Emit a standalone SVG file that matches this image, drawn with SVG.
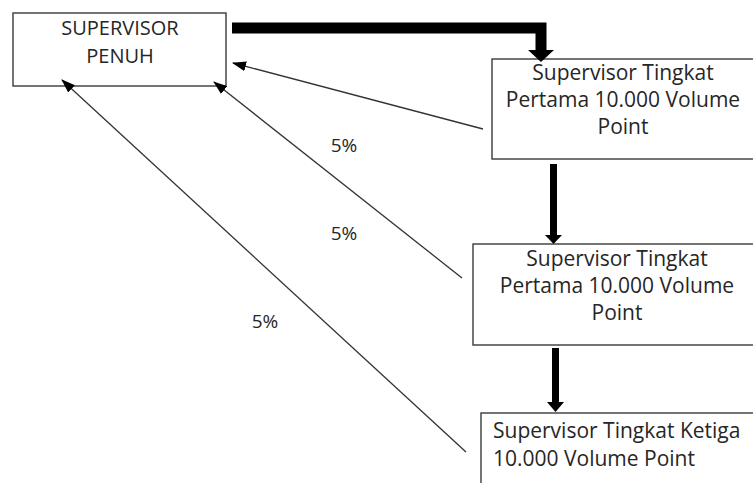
<svg xmlns="http://www.w3.org/2000/svg" width="753" height="483" viewBox="0 0 753 483">
<style>
.box{fill:#fff;stroke:#3a3a3a;stroke-width:1.4}
.t{font-family:"Open Sans","DejaVu Sans",sans-serif;font-size:21px;fill:#262626}
.c{text-anchor:middle}
.thin{stroke:#333;stroke-width:1.3;fill:none}
.lbl{font-family:"Open Sans","DejaVu Sans",sans-serif;font-size:19px;fill:#262626;text-anchor:middle}
</style>
<defs>
<marker id="ah" markerUnits="userSpaceOnUse" markerWidth="14" markerHeight="10" refX="13" refY="5" orient="auto">
<path d="M0,0 L14,5 L0,10 z" fill="#000"/>
</marker>
</defs>
<g id="node-supervisor-penuh">
<rect class="box" x="13" y="13" width="213" height="73"/>
<text class="t c" x="120" y="35" style="font-size:20px">SUPERVISOR</text>
<text class="t c" x="120" y="63" style="font-size:20px">PENUH</text>
</g>
<g id="node-tingkat-pertama-1">
<rect class="box" x="492" y="59" width="270" height="100"/>
<text class="t c" x="623" y="80">Supervisor Tingkat</text>
<text class="t c" x="623" y="107">Pertama 10.000 Volume</text>
<text class="t c" x="623" y="134">Point</text>
</g>
<g id="node-tingkat-pertama-2">
<rect class="box" x="473" y="244" width="290" height="101"/>
<text class="t c" x="617" y="266">Supervisor Tingkat</text>
<text class="t c" x="617" y="293">Pertama 10.000 Volume</text>
<text class="t c" x="617" y="320">Point</text>
</g>
<g id="node-tingkat-ketiga">
<rect class="box" x="481" y="413" width="290" height="90"/>
<text class="t" x="493" y="438">Supervisor Tingkat Ketiga</text>
<text class="t" x="493" y="466">10.000 Volume Point</text>
</g>
<g id="connectors">
<path d="M232,28 H541 V51" fill="none" stroke="#000" stroke-width="11"/>
<path d="M528,50 L554,50 L541,62 z" fill="#000"/>
<rect x="550" y="164" width="7" height="72" fill="#000"/>
<path d="M545,235 L562,235 L553.5,244 z" fill="#000"/>
<rect x="552" y="348" width="7" height="55" fill="#000"/>
<path d="M547,402 L564,402 L555.5,412 z" fill="#000"/>
<line class="thin" x1="483" y1="129" x2="233" y2="63" marker-end="url(#ah)"/>
<line class="thin" x1="462" y1="278" x2="214" y2="82" marker-end="url(#ah)"/>
<line class="thin" x1="466" y1="452" x2="62" y2="80" marker-end="url(#ah)"/>
</g>
<g id="labels">
<text class="lbl" x="344" y="152">5%</text>
<text class="lbl" x="344" y="240">5%</text>
<text class="lbl" x="265" y="328">5%</text>
</g>
</svg>
